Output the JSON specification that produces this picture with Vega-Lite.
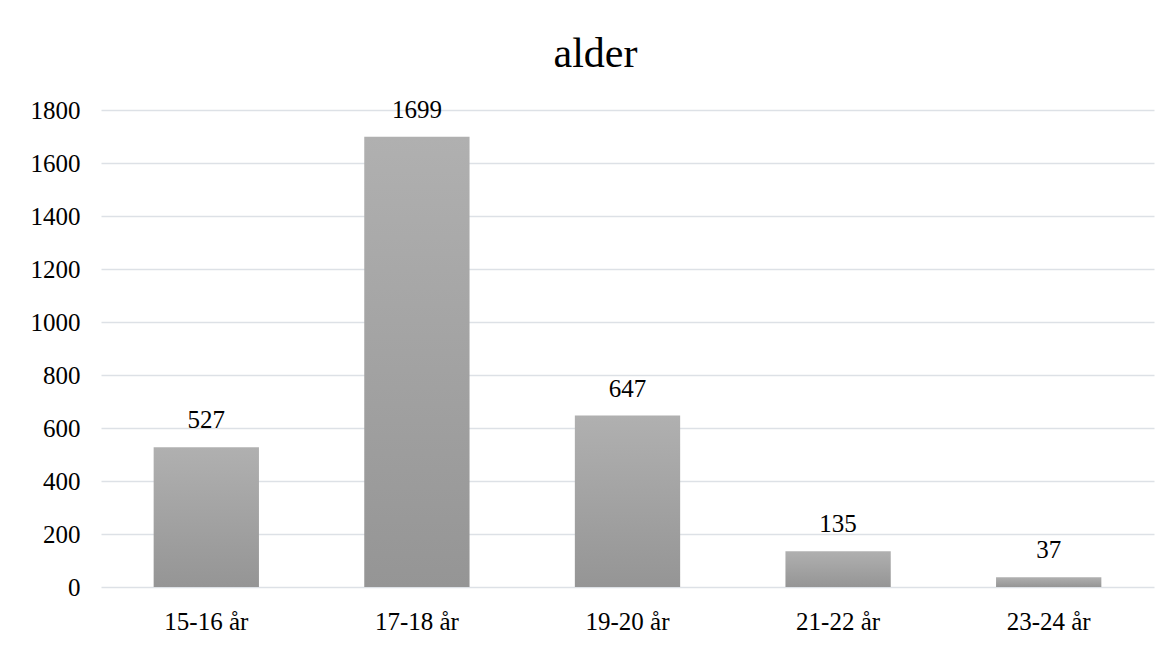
{
  "$schema": "https://vega.github.io/schema/vega-lite/v6.json",
  "autosize": {"type": "none"},
  "padding": {"left": 101, "top": 110, "right": 19, "bottom": 59},
  "width": 1053,
  "height": 477,
  "background": "white",
  "title": {
    "text": "alder",
    "font": "Liberation Serif",
    "fontSize": 42,
    "fontWeight": "normal",
    "color": "#000000",
    "anchor": "middle",
    "frame": "group",
    "baseline": "alphabetic",
    "offset": -11,
    "dx": -32
  },
  "data": {
    "values": [
      {"alder": "15-16 år", "antal": 527},
      {"alder": "17-18 år", "antal": 1699},
      {"alder": "19-20 år", "antal": 647},
      {"alder": "21-22 år", "antal": 135},
      {"alder": "23-24 år", "antal": 37}
    ]
  },
  "encoding": {
    "x": {
      "field": "alder",
      "type": "nominal",
      "sort": null,
      "scale": {"paddingInner": 0.5, "paddingOuter": 0.25},
      "axis": {
        "title": null,
        "labelAngle": 0,
        "domain": false,
        "ticks": false,
        "labelFont": "Liberation Serif",
        "labelFontSize": 25,
        "labelColor": "#000000",
        "labelPadding": 22
      }
    },
    "y": {
      "field": "antal",
      "type": "quantitative",
      "scale": {"domain": [0, 1800]},
      "axis": {
        "title": null,
        "format": "d",
        "values": [0, 200, 400, 600, 800, 1000, 1200, 1400, 1600, 1800],
        "domain": false,
        "ticks": false,
        "grid": true,
        "gridColor": "#dde1e6",
        "gridWidth": 1.5,
        "labelFont": "Liberation Serif",
        "labelFontSize": 25,
        "labelColor": "#000000",
        "labelPadding": 21
      }
    }
  },
  "layer": [
    {
      "mark": {
        "type": "bar",
        "color": {
          "gradient": "linear",
          "x1": 0, "y1": 0, "x2": 0, "y2": 1,
          "stops": [
            {"offset": 0, "color": "#b0b0b0"},
            {"offset": 1, "color": "#959595"}
          ]
        }
      }
    },
    {
      "mark": {
        "type": "text",
        "baseline": "alphabetic",
        "dy": -19,
        "font": "Liberation Serif",
        "fontSize": 25,
        "color": "#000000"
      },
      "encoding": {"text": {"field": "antal", "type": "quantitative", "format": "d"}}
    }
  ],
  "config": {"view": {"stroke": null}}
}
